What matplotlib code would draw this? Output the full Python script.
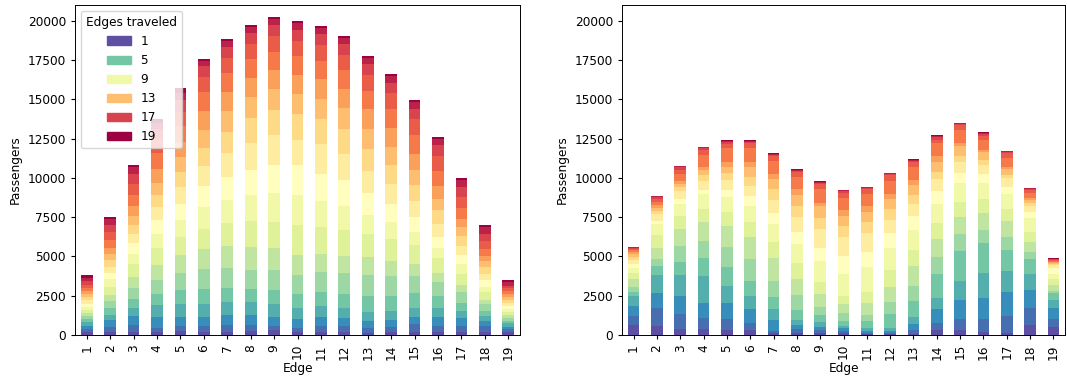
"""
Passenger load per edge of a 20-station line, stacked by trip length.
Left: uniform demand. Right: alternative demand pattern.
"""

import matplotlib
matplotlib.use("Agg")
import matplotlib.pyplot as plt
import numpy as np
from matplotlib.patches import Patch

# ── Data ──────────────────────────────────────────────────────────────────────
edges = list(range(1, 20))
edges_traveled = list(range(1, 20))
legend_keys = [1, 5, 9, 13, 17, 19]

# rows = edge 1..19, columns = edges traveled 1..19
load_left = [
    [200, 190, 210, 200, 190, 210, 200, 200, 190, 210, 200, 200, 210, 190, 200, 210, 200, 190, 220],
    [170, 360, 420, 320, 420, 470, 380, 530, 470, 420, 380, 420, 380, 420, 470, 530, 420, 380, 130],
    [210, 420, 570, 490, 590, 680, 740, 810, 640, 720, 550, 570, 570, 640, 700, 700, 640, 450, 130],
    [170, 300, 700, 760, 700, 890, 950, 1080, 890, 900, 820, 770, 770, 890, 1020, 870, 600, 420, 260],
    [230, 360, 570, 830, 890, 1080, 1150, 1150, 1080, 1020, 1080, 950, 950, 950, 980, 950, 740, 470, 280],
    [170, 400, 570, 850, 930, 1270, 1270, 1270, 1400, 1340, 1270, 1140, 1140, 1210, 1210, 950, 700, 360, 130],
    [210, 420, 640, 830, 890, 1270, 1400, 1460, 1460, 1460, 1530, 1340, 1340, 1210, 1210, 950, 700, 380, 130],
    [250, 380, 640, 830, 830, 1210, 1460, 1650, 1650, 1590, 1720, 1590, 1340, 1210, 1210, 950, 700, 360, 150],
    [320, 250, 570, 830, 890, 1270, 1400, 1650, 1840, 1780, 1910, 1590, 1340, 1210, 1140, 1020, 700, 380, 130],
    [170, 250, 590, 700, 890, 1210, 1270, 1910, 1910, 1910, 1590, 1650, 1270, 1210, 1210, 950, 700, 450, 130],
    [190, 380, 570, 700, 890, 1270, 1140, 1720, 1650, 1720, 1910, 1590, 1270, 1270, 1140, 1020, 700, 380, 130],
    [190, 380, 510, 640, 890, 1340, 1080, 1650, 1530, 1650, 1650, 1590, 1340, 1210, 1210, 950, 700, 380, 130],
    [130, 300, 470, 570, 1020, 1340, 1140, 1460, 1210, 1400, 1400, 1400, 1270, 1270, 1140, 1020, 700, 380, 130],
    [190, 320, 450, 570, 950, 1270, 950, 1400, 1080, 1140, 1270, 1210, 1140, 1210, 1210, 1020, 640, 450, 130],
    [190, 510, 450, 570, 950, 1080, 760, 1210, 830, 950, 1020, 1020, 950, 1020, 1210, 1020, 640, 450, 130],
    [190, 380, 570, 570, 760, 890, 570, 950, 640, 700, 830, 890, 700, 830, 950, 950, 700, 380, 130],
    [190, 380, 510, 450, 510, 700, 450, 700, 640, 570, 570, 640, 570, 510, 700, 700, 640, 450, 130],
    [190, 380, 320, 320, 320, 450, 250, 510, 320, 450, 380, 420, 380, 340, 450, 510, 450, 450, 130],
    [180, 190, 170, 200, 180, 190, 180, 170, 200, 190, 180, 190, 170, 190, 200, 180, 190, 200, 150],
]

load_right = [
    [640, 570, 640, 640, 250, 320, 510, 380, 320, 250, 250, 190, 190, 130, 130, 85, 64, 40, 20],
    [570, 1150, 960, 1150, 570, 450, 700, 830, 700, 190, 450, 190, 190, 190, 190, 170, 110, 64, 40],
    [380, 960, 1150, 1340, 830, 1020, 1080, 830, 770, 320, 510, 255, 190, 190, 450, 255, 130, 85, 40],
    [380, 700, 960, 1720, 1150, 1080, 1210, 830, 960, 255, 570, 380, 320, 190, 770, 320, 85, 64, 40],
    [320, 700, 1020, 1080, 1210, 1280, 1340, 890, 960, 450, 640, 450, 380, 320, 830, 280, 130, 64, 40],
    [320, 450, 890, 830, 960, 1400, 1400, 960, 1020, 640, 640, 570, 640, 320, 830, 320, 110, 40, 40],
    [130, 130, 700, 700, 770, 1020, 1470, 1020, 1150, 700, 830, 640, 640, 320, 830, 320, 85, 60, 40],
    [130, 255, 255, 320, 640, 960, 1020, 1020, 1210, 770, 960, 700, 640, 380, 770, 320, 110, 40, 40],
    [130, 190, 190, 320, 450, 510, 830, 770, 1340, 830, 1210, 700, 770, 190, 830, 320, 110, 40, 40],
    [130, 130, 190, 130, 320, 510, 570, 510, 1400, 1150, 1210, 700, 640, 380, 770, 320, 110, 40, 40],
    [40, 60, 130, 190, 450, 380, 770, 700, 1590, 960, 1210, 700, 640, 380, 770, 320, 85, 40, 20],
    [64, 64, 130, 190, 890, 770, 960, 1080, 1400, 960, 830, 700, 640, 320, 830, 360, 64, 40, 40],
    [85, 230, 380, 450, 1020, 960, 1270, 1020, 1270, 890, 770, 570, 640, 320, 830, 320, 64, 64, 64],
    [320, 450, 890, 700, 1530, 1080, 1150, 1020, 1210, 830, 770, 450, 640, 320, 830, 250, 130, 64, 64],
    [320, 700, 1210, 1210, 1910, 1080, 1080, 960, 1230, 640, 700, 360, 600, 190, 830, 320, 85, 45, 45],
    [190, 830, 1340, 1590, 1910, 830, 1080, 890, 1020, 570, 570, 320, 510, 130, 640, 255, 130, 64, 64],
    [130, 1080, 1530, 1340, 1340, 830, 1020, 770, 960, 450, 570, 190, 380, 130, 570, 320, 42, 42, 42],
    [640, 1080, 1150, 1020, 960, 450, 640, 640, 890, 380, 380, 190, 190, 130, 320, 190, 42, 42, 42],
    [510, 510, 700, 510, 450, 130, 380, 380, 320, 380, 170, 85, 64, 64, 85, 42, 42, 42, 42],
]

# ── Style ─────────────────────────────────────────────────────────────────────
FS = 8.7
plt.rcParams.update({
    "font.size": FS,
    "xtick.major.size": 3.0,
    "ytick.major.size": 3.0,
    "axes.linewidth": 0.7,
})
cmap = plt.get_cmap("Spectral_r")
colors = [cmap(i / (len(edges_traveled) - 1)) for i in range(len(edges_traveled))]


def stacked(ax, table):
    data = np.array(table, dtype=float)
    x = np.arange(len(edges))
    bottom = np.zeros(len(edges))
    for j, k in enumerate(edges_traveled):
        ax.bar(x, data[:, j], width=0.5, bottom=bottom, color=colors[j],
               linewidth=0, label=str(k))
        bottom += data[:, j]
    ax.set_xlim(-0.5, len(edges) - 0.5)
    ax.set_ylim(0, 21000)
    ax.set_xticks(x)
    ax.set_xticklabels([str(e) for e in edges], rotation=90)
    ax.set_yticks(np.arange(0, 20001, 2500))
    ax.set_xlabel("Edge", labelpad=2)
    ax.set_ylabel("Passengers")


# ── Figure ────────────────────────────────────────────────────────────────────
fig = plt.figure(figsize=(10.67, 3.82), dpi=100)
ax_l = fig.add_axes([75 / 1067, 47 / 382, 445 / 1067, 330 / 382])
ax_r = fig.add_axes([622 / 1067, 47 / 382, 443 / 1067, 330 / 382])

stacked(ax_l, load_left)
stacked(ax_r, load_right)

handles = [Patch(color=colors[k - 1], label=str(k)) for k in legend_keys]
ax_l.legend(handles=handles, title="Edges traveled", loc="upper left",
            fontsize=FS, title_fontsize=FS)

fig.savefig("out.png", dpi=100)
